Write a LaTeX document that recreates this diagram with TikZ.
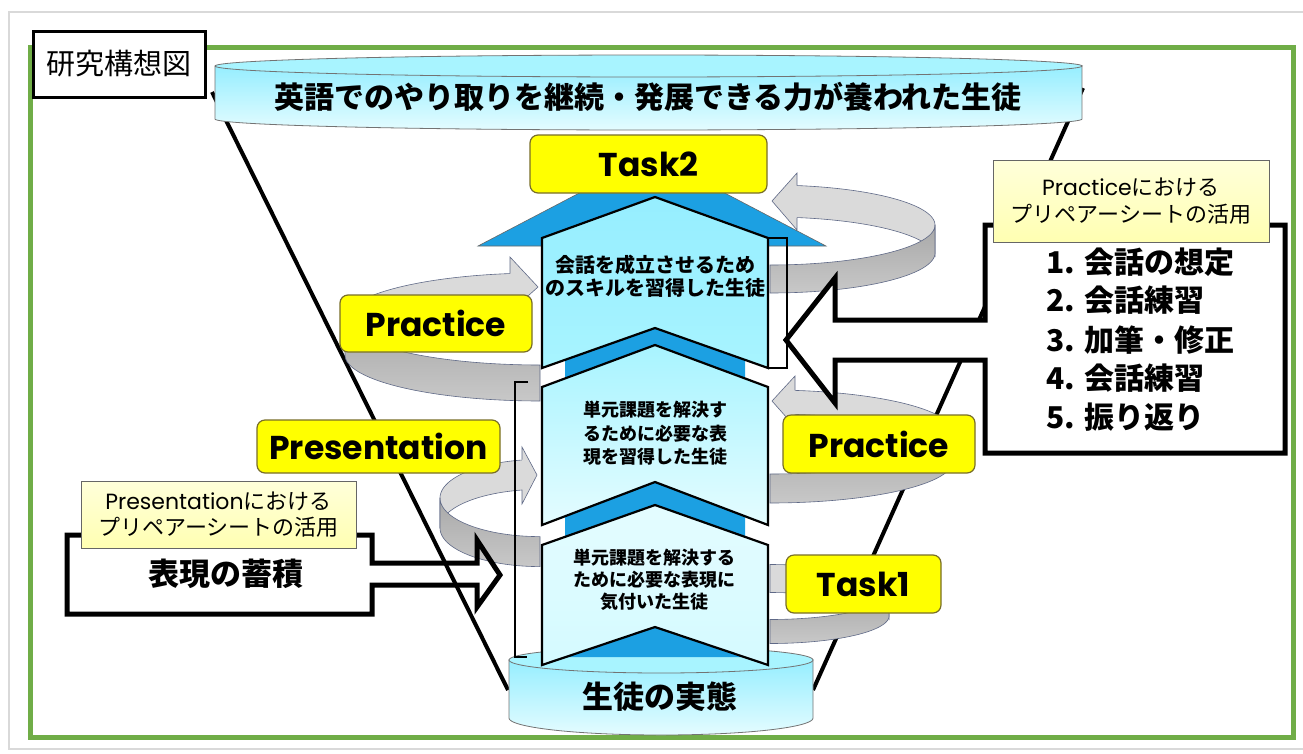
\documentclass[tikz,border=0pt]{standalone}
\usepackage{fontspec}
\setmainfont{Noto Sans CJK JP}
\newfontfamily\pop{Poppins}
\definecolor{grn}{RGB}{112,173,71}
\definecolor{yel}{RGB}{255,255,0}
\definecolor{ybd}{RGB}{120,110,40}
\definecolor{lyA}{RGB}{255,255,218}
\definecolor{lyB}{RGB}{255,255,178}
\definecolor{roofb}{RGB}{28,160,226}
\definecolor{cyA}{RGB}{150,238,255}
\definecolor{cyB}{RGB}{168,244,255}
\definecolor{cyC}{RGB}{228,252,255}
\definecolor{cyD}{RGB}{212,250,255}
\definecolor{ringL}{RGB}{218,218,218}
\definecolor{ringD}{RGB}{168,168,168}
\definecolor{ringM}{RGB}{200,200,200}
\definecolor{ringE}{RGB}{95,105,135}
\newcommand\ringband[8]{\path[#8] plot[domain=#6:#7,samples=50] ({#1+#3*cos(\x)},{#2+#4*sin(\x)}) -- plot[domain=#7:#6,samples=50] ({#1+#3*cos(\x)},{#2+#5+#4*sin(\x)}) -- cycle;}
\tikzset{
  ybox/.style={draw=ybd, fill=yel, rounded corners=8pt, line width=1.2pt, inner sep=0pt},
  lbox/.style={draw=black!60, top color=lyA, bottom color=lyB, line width=0.9pt, inner sep=0pt, align=center},
  ringback/.style={fill=ringL, draw=ringE, line width=0.6pt},
  ringfront/.style={top color=ringD, bottom color=ringM, draw=ringE, line width=0.6pt},
  ringhead/.style={fill=ringL, draw=ringE, line width=0.6pt, line join=miter},
  chev/.style={draw=black, line width=2.2pt, line join=miter},
  bigarrow/.style={draw=black, line width=5pt, line join=miter},
  cyl/.style={draw=black!55, line width=0.8pt},
  lat/.style={font=\pop\bfseries\fontsize{33}{38}\selectfont},
}
\begin{document}
\begin{tikzpicture}[x=1pt,y=-1pt]
\useasboundingbox (0,0) rectangle (1303,753);
\fill[white] (0,0) rectangle (1303,753);
\draw[black!15, line width=2pt] (9,12) rectangle (1312,749);
\draw[grn, line width=5pt] (30,47) rectangle (1293,737);

% funnel lines
\draw[line width=4pt] (212,92) -- (508,690);
\draw[line width=4pt] (1083,88) -- (813,690);

% top cylinder
\path[cyl, top color=cyA, bottom color=cyC] (215,66) -- plot[domain=180:0,samples=90] ({648.5+433.5*cos(\x)},{119+11*sin(\x)}) -- (1082,66) -- cycle;
\path[cyl, fill=cyB] plot[domain=0:360,samples=120] ({648.5+433.5*cos(\x)},{66+11*sin(\x)}) -- cycle;
\node[font=\bfseries\fontsize{30}{36}\selectfont] (goal) at (648,97) {英語でのやり取りを継続・発展できる力が養われた生徒};

% bottom cylinder
\path[cyl, top color=cyA, bottom color=cyC] (509,660) -- plot[domain=180:0,samples=60] ({661+152*cos(\x)},{718+17*sin(\x)}) -- (813,660) -- cycle;
\path[cyl, fill=cyB] plot[domain=0:360,samples=80] ({661+152*cos(\x)},{660+13*sin(\x)}) -- cycle;

% rings
% A (upper right)
\ringband{770}{225}{165}{40}{32}{277.7}{360}{ringback}
\path[ringhead] (797,185.5) -- (797,173) -- (772,201) -- (797,230) -- (797,217.5);
\ringband{770}{225}{165}{40}{28}{0}{90}{ringfront}
% B (upper left)
\ringband{540}{319}{195}{46}{22}{180}{262.6}{ringback}
\path[ringhead] (510,273.5) -- (510,257) -- (538,287) -- (510,312) -- (510,295.5);
\ringband{540}{319}{195}{46}{36}{90}{180}{ringfront}
% C (middle right)
\ringband{770}{432}{183}{42}{24}{276.27}{360}{ringback}
\path[ringhead] (795,390.4) -- (795,376) -- (772,401) -- (795,427) -- (795,414.4);
\ringband{770}{432}{183}{42}{29}{0}{90}{ringfront}
% D (middle left)
\ringband{540}{498}{100}{38.6}{30}{180}{262.5}{ringback}
\path[ringhead] (522,459.7) -- (522,447) -- (537,475) -- (522,504) -- (522,489.7);
\ringband{540}{498}{100}{38.6}{30}{90}{180}{ringfront}
% E (lower right)
\ringband{770}{592}{119}{27.5}{28}{270}{360}{ringback}
\ringband{770}{592}{119}{27.5}{24}{0}{90}{ringfront}

% blue roofs
\path[fill=roofb, draw=black!60, line width=0.6pt] (478,246) -- (652,155) -- (826,246) -- cycle;
\fill[roofb] (565,400) -- (565,352) -- (655,318) -- (745,352) -- (745,400) -- cycle;
\fill[roofb] (565,560) -- (565,512) -- (655,474) -- (745,512) -- (745,560) -- cycle;
\fill[roofb] (565,657) -- (655,626) -- (745,657) -- cycle;

% chevrons
\path[chev, top color=cyA, bottom color=cyB] (542,238) -- (655,197) -- (768,238) -- (768,368) -- (655,328) -- (542,368) -- cycle;
\path[chev, top color=cyB, bottom color=cyC] (542,387) -- (655,345) -- (768,387) -- (768,525) -- (655,482) -- (542,525) -- cycle;
\path[chev, top color=cyC, bottom color=cyD] (542,545) -- (655,505) -- (768,545) -- (768,665) -- (655,627) -- (542,665) -- cycle;
\node[align=center, font=\bfseries\fontsize{20}{23.5}\selectfont] (c1) at (655,276.5) {会話を成立させるため\\のスキルを習得した生徒};
\node[align=center, font=\bfseries\fontsize{18}{23.5}\selectfont] (c2) at (655,433.5) {単元課題を解決す\\るために必要な表\\現を習得した生徒};
\node[align=center, font=\bfseries\fontsize{18}{22}\selectfont] (c3) at (654,580) {単元課題を解決する\\ために必要な表現に\\気付いた生徒};

\node[font=\bfseries\fontsize{31}{36}\selectfont] (base) at (660,697) {生徒の実態};

% thin outline artefacts
\draw[line width=1.8pt] (768,238) rectangle (787,368);
\draw[line width=1.8pt] (528,382) -- (515,382) -- (515,657) -- (527,657);

% big block arrows
\draw[bigarrow, fill=white] (985,225) -- (1285,225) -- (1285,453) -- (985,453) -- (985,360) -- (835,360) -- (835,403) -- (786,340) -- (835,278) -- (835,320) -- (985,320) -- cycle;
\draw[bigarrow] (67,535) -- (372,535) -- (372,563) -- (477,563) -- (477,540) -- (500,575) -- (477,607) -- (477,585) -- (372,585) -- (372,614) -- (67,614) -- cycle;

\node[font=\bfseries\fontsize{31}{36}\selectfont] (acc) at (226,574) {表現の蓄積};
\foreach \n/\t/\yy in {l1/{1. 会話の想定}/262, l2/{2. 会話練習}/300, l3/{3. 加筆・修正}/340, l4/{4. 会話練習}/378, l5/{5. 振り返り}/417}
  \node[anchor=west, font=\bfseries\fontsize{30}{36}\selectfont] (\n) at (1043,\yy) {\t};

% yellow boxes
\node[ybox, lat, minimum width=237pt, minimum height=58pt] (task2) at (648.5,164) {Task2};
\node[ybox, lat, minimum width=192pt, minimum height=57pt] (pracL) at (436,323.5) {Practice};
\node[ybox, lat, minimum width=243pt, minimum height=53pt] (pres) at (378.5,446.5) {Presentation};
\node[ybox, lat, minimum width=192pt, minimum height=58pt] (pracR) at (879,444) {Practice};
\node[ybox, lat, minimum width=155pt, minimum height=58pt] (task1) at (863.5,584) {Task1};

% label boxes
\node[lbox, minimum width=276pt, minimum height=82pt, font=\fontsize{22}{27}\selectfont] (labR) at (1131,201) {{\pop Practice}における\\プリペアーシートの活用};
\node[lbox, minimum width=275pt, minimum height=67pt, font=\fontsize{22}{26}\selectfont] (labL) at (218.5,514.5) {{\pop Presentation}における\\プリペアーシートの活用};

% title box
\node[draw, line width=3pt, fill=white, minimum width=172pt, minimum height=66pt, inner sep=0pt, font=\fontsize{29}{34}\selectfont] (title) at (119,64) {研究構想図};
\end{tikzpicture}
\end{document}
